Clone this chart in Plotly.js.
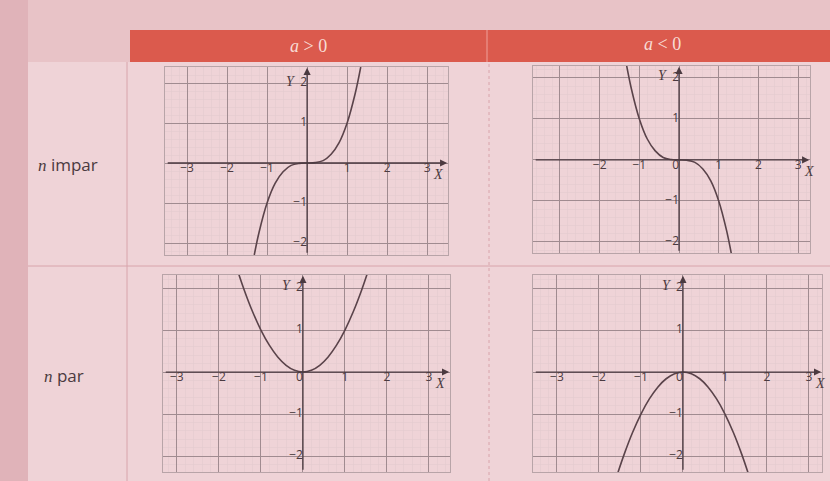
<!DOCTYPE html>
<html>
<head>
<meta charset="utf-8">
<script src="https://cdn.plot.ly/plotly-3.0.1.min.js"></script>
<style>html,body{margin:0;padding:0;background:#e8c3c7;}#chart{width:830px;height:481px;}</style>
</head>
<body>
<div id="chart"></div>
<script>
// ---- data ----
const columnHeaders = ['<i>a</i> > 0', '<i>a</i> < 0'];
const rowLabels = ['<span style="font-family:Liberation Serif,serif"><i>n</i></span> impar',
                   '<span style="font-family:Liberation Serif,serif"><i>n</i></span> par'];

// n odd, a > 0
const oddPosX = [-1.32, -1.2, -1.0, -0.8, -0.6, -0.4, -0.2, 0, 0.2, 0.4, 0.6, 0.8, 1.0, 1.2, 1.34];
const oddPosY = [-2.3, -1.73, -1.0, -0.51, -0.22, -0.06, -0.01, 0, 0.01, 0.06, 0.22, 0.51, 1.0, 1.73, 2.4];
// n odd, a < 0
const oddNegX = [-1.34, -1.2, -1.0, -0.8, -0.6, -0.4, -0.2, 0, 0.2, 0.4, 0.6, 0.8, 1.0, 1.2, 1.34];
const oddNegY = [2.4, 1.73, 1.0, 0.51, 0.22, 0.06, 0.01, 0, -0.01, -0.06, -0.22, -0.51, -1.0, -1.73, -2.4];
// n even, a > 0
const evenPosX = [-1.54, -1.4, -1.2, -1.0, -0.8, -0.6, -0.4, -0.2, 0, 0.2, 0.4, 0.6, 0.8, 1.0, 1.2, 1.4, 1.54];
const evenPosY = [2.37, 1.96, 1.44, 1.0, 0.64, 0.36, 0.16, 0.04, 0, 0.04, 0.16, 0.36, 0.64, 1.0, 1.44, 1.96, 2.37];
// n even, a < 0
const evenNegX = [-1.56, -1.4, -1.2, -1.0, -0.8, -0.6, -0.4, -0.2, 0, 0.2, 0.4, 0.6, 0.8, 1.0, 1.2, 1.4, 1.56];
const evenNegY = [-2.43, -1.96, -1.44, -1.0, -0.64, -0.36, -0.16, -0.04, 0, -0.04, -0.16, -0.36, -0.64, -1.0, -1.44, -1.96, -2.43];

// tick labels per panel
const xTicksTL = [-3, -2, -1, 1, 2, 3];
const xTicksTR = [-2, -1, 0, 1, 2, 3];
const xTicksBL = [-3, -2, -1, 0, 1, 2, 3];
const xTicksBR = [-3, -2, -1, 0, 1, 2, 3];
const yTicks = [2, 1, -1, -2];

// ---- layout helpers ----
const W = 830, H = 481;
const fx = p => p / W;
const fy = p => 1 - p / H;

const panels = [
  {box: [165, 448, 67, 255], xr: [-3.55, 3.52], yr: [-2.3, 2.4], xs: oddPosX, ys: oddPosY, xt: xTicksTL},
  {box: [533, 810, 66, 253], xr: [-3.68, 3.3], yr: [-2.27, 2.29], xs: oddNegX, ys: oddNegY, xt: xTicksTR},
  {box: [163, 450, 275, 472], xr: [-3.33, 3.5], yr: [-2.38, 2.31], xs: evenPosX, ys: evenPosY, xt: xTicksBL},
  {box: [533, 822, 275, 472], xr: [-3.57, 3.31], yr: [-2.38, 2.31], xs: evenNegX, ys: evenNegY, xt: xTicksBR}
];

const inkColor = '#4b3a40';
const curveColor = '#5a434a';
const mkFont = () => ({family: 'Open Sans, Noto Sans, sans-serif', size: 12, color: inkColor});
const minus = v => v < 0 ? '\u2212' + Math.abs(v) : String(v);

const traces = [];
const layout = {
  width: W, height: H,
  margin: {l: 0, r: 0, t: 0, b: 0},
  paper_bgcolor: '#e8c3c7',
  plot_bgcolor: '#f1d9dc',
  showlegend: false,
  shapes: [],
  annotations: []
};

layout.shapes.push(
  {type: 'rect', xref: 'paper', yref: 'paper', x0: fx(28), x1: 1, y0: 0, y1: fy(62), fillcolor: '#efd3d7', line: {width: 0}, layer: 'below'},
  {type: 'rect', xref: 'paper', yref: 'paper', x0: 0, x1: fx(28), y0: 0, y1: 1, fillcolor: '#e0b3b9', line: {width: 0}, layer: 'below'},
  {type: 'rect', xref: 'paper', yref: 'paper', x0: fx(130), x1: 1, y0: fy(62), y1: fy(30), fillcolor: '#db5a4d', line: {width: 0}, layer: 'below'},
  {type: 'line', xref: 'paper', yref: 'paper', x0: fx(487), x1: fx(487), y0: fy(62), y1: fy(30), line: {color: '#e88a80', width: 1.5}, layer: 'below'},
  {type: 'line', xref: 'paper', yref: 'paper', x0: fx(127), x1: fx(127), y0: 0, y1: fy(62), line: {color: '#d8a4ab', width: 1}, layer: 'below'},
  {type: 'line', xref: 'paper', yref: 'paper', x0: fx(489), x1: fx(489), y0: 0, y1: fy(62), line: {color: '#d8a4ab', width: 1, dash: 'dot'}, layer: 'below'},
  {type: 'line', xref: 'paper', yref: 'paper', x0: fx(28), x1: 1, y0: fy(266), y1: fy(266), line: {color: '#d8a4ab', width: 1}, layer: 'below'}
);

layout.annotations.push(
  {xref: 'paper', yref: 'paper', x: fx(308), y: fy(46), xanchor: 'center', yanchor: 'middle', text: columnHeaders[0], showarrow: false,
   font: {family: 'Liberation Serif, DejaVu Serif, serif', size: 18, color: '#f8ddd6'}},
  {xref: 'paper', yref: 'paper', x: fx(662), y: fy(44), xanchor: 'center', yanchor: 'middle', text: columnHeaders[1], showarrow: false,
   font: {family: 'Liberation Serif, DejaVu Serif, serif', size: 18, color: '#f8ddd6'}},
  {xref: 'paper', yref: 'paper', x: fx(36), y: fy(164), xanchor: 'left', yanchor: 'middle', text: rowLabels[0], showarrow: false,
   font: {family: 'Open Sans, Noto Sans, sans-serif', size: 17, color: inkColor}},
  {xref: 'paper', yref: 'paper', x: fx(42), y: fy(375), xanchor: 'left', yanchor: 'middle', text: rowLabels[1], showarrow: false,
   font: {family: 'Open Sans, Noto Sans, sans-serif', size: 17, color: inkColor}}
);

panels.forEach((p, i) => {
  const n = i === 0 ? '' : String(i + 1);
  const xa = 'x' + n, ya = 'y' + n;
  const axCommon = () => ({
    showgrid: true, gridcolor: '#a08b90', gridwidth: 1, dtick: 1, tick0: 0,
    minor: {dtick: 0.2, tick0: 0, showgrid: true, gridcolor: '#e2cbce', gridwidth: 0.6},
    zeroline: false, showticklabels: false, ticks: '',
    showline: true, mirror: true, linecolor: '#b8a4a8', linewidth: 1,
    fixedrange: true
  });
  layout['xaxis' + n] = Object.assign(axCommon(), {
    domain: [fx(p.box[0]), fx(p.box[1])], range: p.xr, anchor: ya
  });
  layout['yaxis' + n] = Object.assign(axCommon(), {
    domain: [fy(p.box[3]), fy(p.box[2])], range: p.yr, anchor: xa
  });

  traces.push({type: 'scatter', mode: 'lines', x: p.xs, y: p.ys, xaxis: xa, yaxis: ya,
    line: {color: curveColor, width: 1.6, shape: 'spline'}, hoverinfo: 'skip'});

  traces.push({type: 'scatter', mode: 'text', x: p.xt, y: p.xt.map(() => 0), xaxis: xa, yaxis: ya,
    text: p.xt.map(minus),
    textposition: p.xt.map(v => v === 0 ? 'bottom left' : 'bottom center'),
    textfont: mkFont(), hoverinfo: 'skip', cliponaxis: false});
  traces.push({type: 'scatter', mode: 'text', x: yTicks.map(() => 0), y: yTicks, xaxis: xa, yaxis: ya,
    text: yTicks.map(minus),
    textposition: 'middle left', textfont: mkFont(), hoverinfo: 'skip', cliponaxis: false});

  layout.annotations.push(
    {xref: xa, yref: ya, axref: xa, ayref: ya, x: p.xr[1] - 0.02, y: 0, ax: p.xr[0] + 0.03, ay: 0,
     text: '', showarrow: true, arrowhead: 2, arrowsize: 1.1, arrowwidth: 1.3, arrowcolor: inkColor},
    {xref: xa, yref: ya, axref: xa, ayref: ya, x: 0, y: p.yr[1] - 0.02, ax: 0, ay: p.yr[0] + 0.02,
     text: '', showarrow: true, arrowhead: 2, arrowsize: 1.1, arrowwidth: 1.3, arrowcolor: inkColor},
    {xref: xa, yref: ya, x: 3.1, y: -0.05, xanchor: 'left', yanchor: 'top', text: '<i>X</i>', showarrow: false,
     font: {family: 'Liberation Serif, DejaVu Serif, serif', size: 14, color: inkColor}},
    {xref: xa, yref: ya, x: -0.22, y: 2.05, xanchor: 'right', yanchor: 'middle', text: '<i>Y</i>', showarrow: false,
     font: {family: 'Liberation Serif, DejaVu Serif, serif', size: 14, color: inkColor}}
  );
});

Plotly.newPlot('chart', traces, layout, {staticPlot: true, displayModeBar: false});
</script>
</body>
</html>
